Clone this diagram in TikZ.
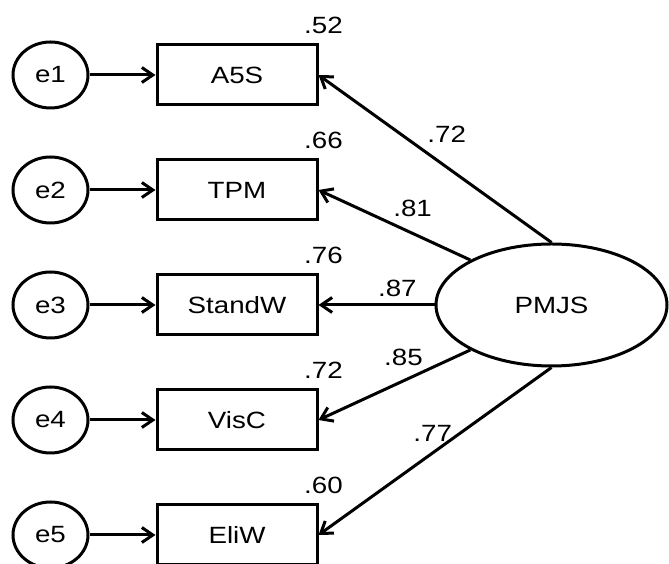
\documentclass[tikz,border=0pt]{standalone}
\usepackage{fontspec}
\setmainfont[FakeStretch=1.18]{Liberation Sans}
\usetikzlibrary{arrows.meta}
\usetikzlibrary{positioning}
\usetikzlibrary{shapes.geometric}

\begin{document}
\begin{tikzpicture}
    [x=1pt,y=1pt,node distance=52pt,
errnode/.style={ellipse, draw=black, line width=3pt, minimum width=75pt, minimum height=66pt, inner sep=0pt},
obsbox/.style={rectangle, draw=black, line width=3pt, minimum width=160pt, minimum height=60pt, inner sep=0pt},
latent/.style={ellipse, draw=black, line width=3pt, minimum width=231pt, minimum height=122pt, inner sep=0pt},
rsq/.style={inner sep=0pt, xshift=5pt},
loading/.style={line width=3pt, -{Straight Barb[length=11pt,width=15pt]}}
]

\fontsize{23.5}{27}\selectfont

\useasboundingbox (0,0) rectangle (669,564);

\node[obsbox](a5s) at (237,489){A5S};
\node[obsbox](tpm)[below=of a5s]{TPM};
\node[obsbox](standw)[below=of tpm]{StandW};
\node[obsbox](visc)[below=of standw]{VisC};
\node[obsbox](eliw)[below=of visc]{EliW};

\node[errnode](e1)[left=66pt of a5s]{e1};
\node[errnode](e2)[left=66pt of tpm]{e2};
\node[errnode](e3)[left=66pt of standw]{e3};
\node[errnode](e4)[left=66pt of visc]{e4};
\node[errnode](e5)[left=66pt of eliw]{e5};

\node[latent](pmjs)[right=116pt of standw]{PMJS};

\node[rsq](r1)[above=10pt of a5s.north east]{.52};
\node[rsq](r2)[above=10pt of tpm.north east]{.66};
\node[rsq](r3)[above=10pt of standw.north east]{.76};
\node[rsq](r4)[above=10pt of visc.north east]{.72};
\node[rsq](r5)[above=10pt of eliw.north east]{.60};

\draw[loading] (pmjs.north) to node [pos=0.45,yshift=33pt] {.72} (a5s.east);
\draw[loading] (pmjs.151) to node [pos=0.38,yshift=25pt] {.81} (tpm.east);
\draw[loading] (pmjs.west) to node [pos=0.32,yshift=17pt] {.87} (standw.east);
\draw[loading] (pmjs.209) to node [pos=0.44,yshift=23pt] {.85} (visc.east);
\draw[loading] (pmjs.south) to node [pos=0.51,yshift=20pt] {.77} (eliw.east);

\draw[loading] (e1) -- (a5s);
\draw[loading] (e2) -- (tpm);
\draw[loading] (e3) -- (standw);
\draw[loading] (e4) -- (visc);
\draw[loading] (e5) -- (eliw);

\end{tikzpicture}
\end{document}
